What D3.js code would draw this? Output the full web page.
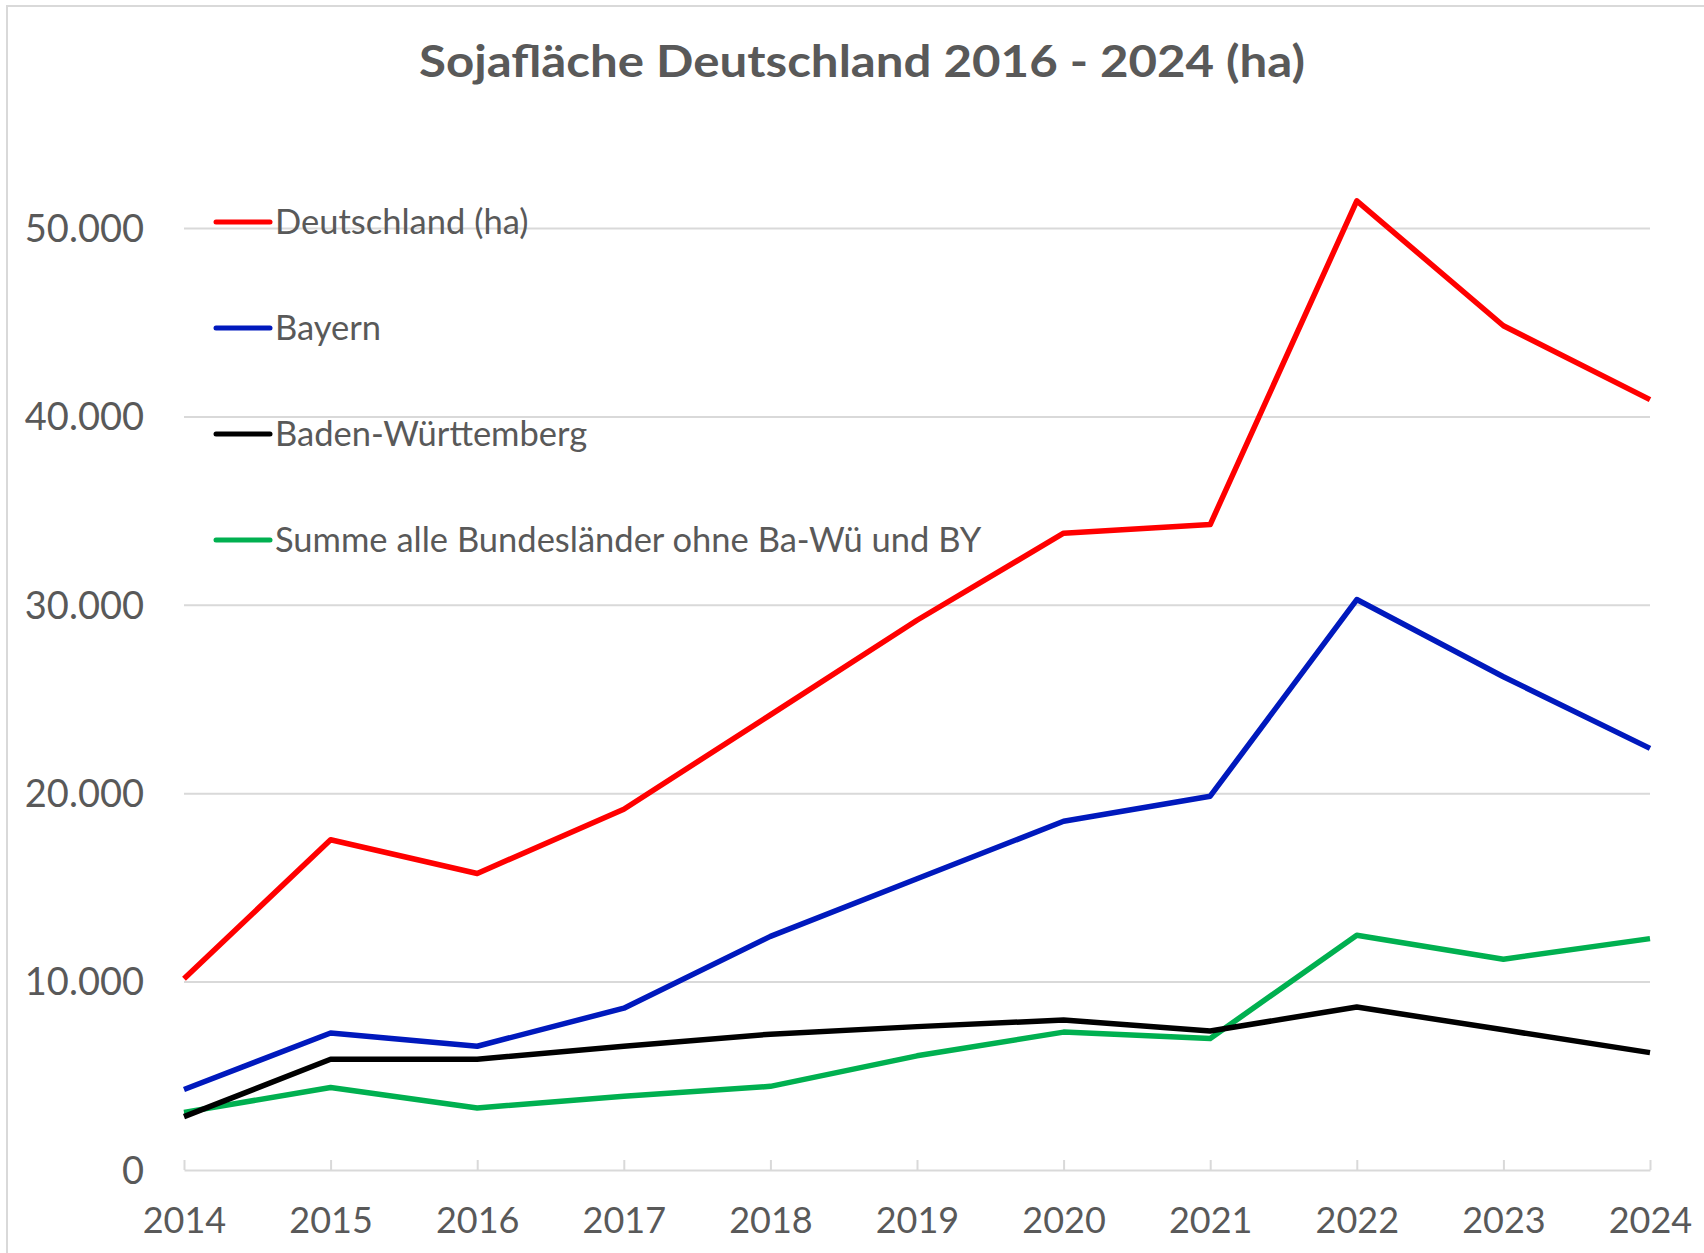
<!DOCTYPE html>
<html>
<head>
<meta charset="utf-8">
<script src="https://cdn.jsdelivr.net/npm/d3@7"></script>
<style>
  html, body { margin: 0; padding: 0; background: #fff; }
  svg { display: block; }
</style>
</head>
<body>
<script>
// data (ha)
const years = [2014, 2015, 2016, 2017, 2018, 2019, 2020, 2021, 2022, 2023, 2024];
const deutschland = [10150, 17530, 15740, 19150, 24160, 29180, 33800, 34260, 51440, 44810, 40890];
const bayern = [4270, 7270, 6570, 8590, 12400, 15460, 18510, 19840, 30280, 26180, 22380];
const badenWuerttemberg = [2830, 5880, 5880, 6570, 7210, 7610, 7960, 7380, 8650, 7440, 6230];
const uebrige = [3060, 4380, 3290, 3920, 4440, 6060, 7320, 6980, 12460, 11190, 12280];
const yTicks = [0, 10000, 20000, 30000, 40000, 50000];
const seriesNames = [
  "Deutschland (ha)",
  "Bayern",
  "Baden-Württemberg",
  "Summe alle Bundesländer ohne Ba-Wü und BY",
];
const seriesColors = ["#ff0000", "#0019bd", "#000000", "#00b050"];
const titleText = "Sojafläche Deutschland 2016 - 2024 (ha)";

const width = 1704,
  height = 1253;
const margin = { left: 184, right: 54, top: 228, bottom: 83 };
const textCol = "#595959";
const gridCol = "#d9d9d9";
const font = "Lato, 'Open Sans', sans-serif";

const series = [deutschland, bayern, badenWuerttemberg, uebrige].map((v, i) => ({
  name: seriesNames[i],
  color: seriesColors[i],
  values: v,
}));

const svg = d3
  .select("body")
  .append("svg")
  .attr("width", width)
  .attr("height", height);

// chart frame
svg
  .append("rect")
  .attr("x", 7)
  .attr("y", 6)
  .attr("width", width + 20)
  .attr("height", height + 20)
  .attr("fill", "#fff")
  .attr("stroke", gridCol)
  .attr("stroke-width", 2);

const x = d3
  .scalePoint()
  .domain(years)
  .range([margin.left, width - margin.right]);

const y = d3
  .scaleLinear()
  .domain([0, 50000])
  .range([height - margin.bottom, margin.top]);

const fmt = (d) => d3.format(",")(d).replace(/,/g, ".");

// title
svg
  .append("text")
  .attr("x", 862)
  .attr("y", 77)
  .attr("text-anchor", "middle")
  .attr("font-family", font)
  .attr("font-weight", "bold")
  .attr("font-size", 44)
  .attr("fill", textCol)
  .attr("textLength", 886)
  .attr("lengthAdjust", "spacingAndGlyphs")
  .text(titleText);

// gridlines + y labels
const yAxis = svg
  .append("g")
  .attr("transform", `translate(${margin.left},0)`)
  .call(
    d3
      .axisLeft(y)
      .tickValues(yTicks)
      .tickSize(-(width - margin.left - margin.right))
      .tickPadding(40)
      .tickFormat(fmt)
  );
yAxis.select(".domain").remove();
yAxis
  .selectAll(".tick line")
  .attr("stroke", (d) => (d === 0 ? "none" : gridCol))
  .attr("stroke-width", 2);
yAxis
  .selectAll(".tick text")
  .attr("font-family", font)
  .attr("font-size", 38)
  .attr("fill", textCol)
  .attr("dy", "0.35em");

// x axis (ticks point upward, like the source)
const xAxis = svg
  .append("g")
  .attr("transform", `translate(0,${y(0)})`)
  .call(d3.axisBottom(x).tickSize(-10).tickSizeOuter(0).tickPadding(37));
xAxis.select(".domain").attr("stroke", gridCol).attr("stroke-width", 2);
xAxis.selectAll(".tick line").attr("stroke", gridCol).attr("stroke-width", 2);
xAxis
  .selectAll(".tick text")
  .attr("font-family", font)
  .attr("font-size", 36)
  .attr("fill", textCol)
  .attr("dy", "0.71em");

// lines
const line = d3
  .line()
  .x((d, i) => x(years[i]))
  .y((d) => y(d));

svg
  .append("g")
  .selectAll("path")
  .data(series.slice().reverse())
  .join("path")
  .attr("d", (d) => line(d.values))
  .attr("fill", "none")
  .attr("stroke", (d) => d.color)
  .attr("stroke-width", 5.5)
  .attr("stroke-linejoin", "round");

// legend
const leg = svg
  .append("g")
  .selectAll("g")
  .data(series)
  .join("g")
  .attr("transform", (d, i) => `translate(216,${222 + i * 106})`);

leg
  .append("line")
  .attr("x1", 0)
  .attr("x2", 54)
  .attr("stroke", (d) => d.color)
  .attr("stroke-width", 5)
  .attr("stroke-linecap", "round");

leg
  .append("text")
  .attr("x", 59)
  .attr("dy", "0.35em")
  .attr("font-family", font)
  .attr("font-size", 34.5)
  .attr("fill", textCol)
  .text((d) => d.name);
</script>
</body>
</html>
